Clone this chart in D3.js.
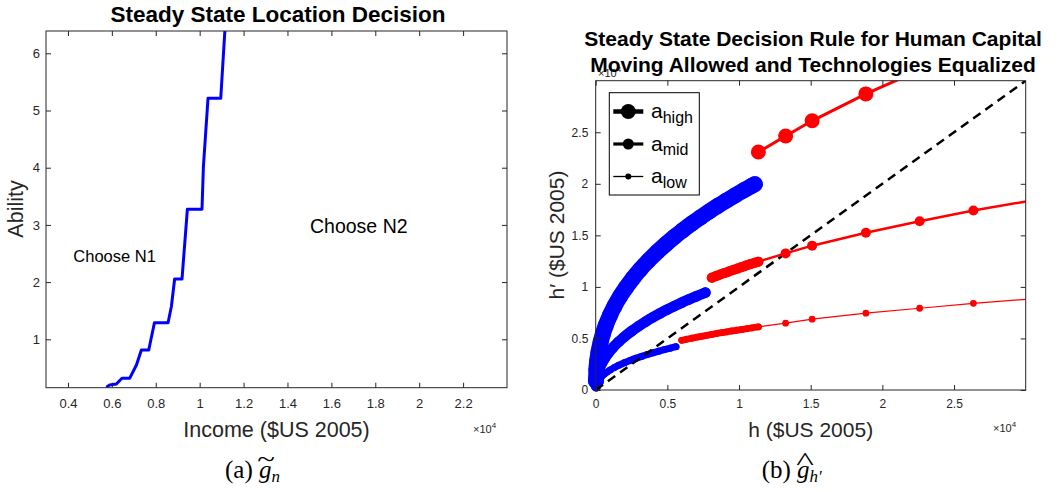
<!DOCTYPE html>
<html><head><meta charset="utf-8">
<script src="https://cdn.jsdelivr.net/npm/d3@7"></script>
<style>
body{margin:0;background:#fff}
svg{display:block}
text{font-family:"Liberation Sans",Arial,Helvetica,sans-serif}
</style>
</head><body>
<svg id="c" width="1059" height="492"></svg>
<script>
// ---------- Panel (a): location decision boundary ----------
const incomeCut = [5750, 5900, 6206, 6460, 6810, 7120, 7345, 7680, 7940, 8560, 8710, 8860, 9195, 9440, 10106, 10170, 10380, 10960, 11150, 11210];
const abilityCut = [0.161, 0.201, 0.219, 0.318, 0.318, 0.551, 0.813, 0.813, 1.290, 1.290, 1.570, 2.054, 2.054, 3.273, 3.273, 4.02, 5.213, 5.213, 6.407, 6.93];
const incomeTicks = [4000, 6000, 8000, 10000, 12000, 14000, 16000, 18000, 20000, 22000];
const abilityTicks = [1, 2, 3, 4, 5, 6];

// ---------- Panel (b): decision rule h' (h) ----------
// blue: N1 choices (dense grid)
const blueHighH  = [20, 50, 100, 200, 350, 500, 700, 1000, 1300, 1700, 2100, 2600, 3100, 3700, 4300, 4900, 5500, 6100, 6700, 7300, 7900, 8500, 9100, 9700, 10300, 10900, 11100];
const blueHighHp = [900, 2000, 2760, 3690, 4670, 5430, 6250, 7260, 8110, 9080, 9910, 10840, 11680, 12580, 13400, 14150, 14860, 15520, 16140, 16730, 17300, 17840, 18360, 18860, 19340, 19810, 19960];
const blueMidH   = [20, 100, 200, 400, 600, 900, 1200, 1600, 2000, 2500, 3000, 3500, 4000, 4500, 5000, 5500, 6000, 6500, 7000, 7650];
const blueMidHp  = [400, 1340, 1830, 2500, 3000, 3610, 4110, 4670, 5170, 5710, 6200, 6650, 7060, 7440, 7800, 8140, 8470, 8780, 9080, 9450];
const blueLowH   = [20, 100, 200, 400, 600, 800, 1000, 1300, 1600, 2000, 2400, 2800, 3200, 3600, 4000, 4400, 4800, 5200, 5600];
const blueLowHp  = [200, 690, 940, 1280, 1540, 1750, 1930, 2180, 2390, 2640, 2870, 3070, 3260, 3440, 3610, 3770, 3920, 4060, 4200];
// red: N2 choices
const redHighH   = [11350, 13250, 15100, 18850, 22600];
const redHighHp  = [23080, 24630, 26110, 28720, 31030];
const redMidH    = [8100, 8400, 8700, 9000, 9300, 9600, 9900, 10200, 10500, 10800, 11100, 11350, 13250, 15100, 18850, 22600, 26350, 30100];
const redMidHp   = [10890, 11050, 11210, 11360, 11500, 11650, 11790, 11930, 12070, 12210, 12340, 12450, 13250, 14000, 15250, 16370, 17410, 18310];
const redLowH    = [6000, 6350, 6700, 7050, 7400, 7750, 8100, 8450, 8800, 9150, 9500, 9850, 10200, 10550, 10900, 11350, 13250, 15100, 18850, 22600, 26350, 30100];
const redLowHp   = [4820, 4920, 5020, 5120, 5210, 5300, 5390, 5480, 5560, 5640, 5725, 5800, 5880, 5950, 6030, 6120, 6480, 6870, 7450, 7930, 8410, 8800];
const hTicks  = [0, 5000, 10000, 15000, 20000, 25000];
const hpTicks = [0, 5000, 10000, 15000, 20000, 25000];
const legendLabels = ["high", "mid", "low"];

const svg = d3.select("#c");
const AX = "#262626";
const fmt4 = d => String(+(d / 1e4).toFixed(2));

function zip(a, b) { return a.map((v, i) => [v, b[i]]); }

function axesFrame(x, y, xt, yt, xFmt, yFmt, fs, padX, padY) {
  const [x0, x1] = x.range(), [y1, y0] = y.range();
  const g = svg.append("g");
  const style = sel => {
    sel.select(".domain").remove();
    sel.selectAll("line").attr("stroke", AX);
    sel.selectAll("text").attr("fill", AX).style("font-size", fs + "px").attr("font-family", null);
  };
  g.append("g").attr("transform", `translate(0,${y1})`)
    .call(d3.axisBottom(x).tickValues(xt).tickFormat(xFmt).tickSizeInner(-5).tickSizeOuter(0).tickPadding(padX)).call(style);
  g.append("g").attr("transform", `translate(0,${y0})`)
    .call(d3.axisTop(x).tickValues(xt).tickFormat("").tickSizeInner(-5).tickSizeOuter(0)).call(style);
  g.append("g").attr("transform", `translate(${x0},0)`)
    .call(d3.axisLeft(y).tickValues(yt).tickFormat(yFmt).tickSizeInner(-5).tickSizeOuter(0).tickPadding(padY)).call(style);
  g.append("g").attr("transform", `translate(${x1},0)`)
    .call(d3.axisRight(y).tickValues(yt).tickFormat("").tickSizeInner(-5).tickSizeOuter(0)).call(style);
  g.append("rect").attr("x", x0).attr("y", y0).attr("width", x1 - x0).attr("height", y1 - y0)
    .attr("fill", "none").attr("stroke", AX).attr("stroke-width", 1);
}

function clip(id, x, y) {
  const [x0, x1] = x.range(), [y1, y0] = y.range();
  svg.append("clipPath").attr("id", id).append("rect")
    .attr("x", x0).attr("y", y0).attr("width", x1 - x0).attr("height", y1 - y0);
}

function expLabel(xp, yp) {
  const t = svg.append("text").attr("x", xp).attr("y", yp).attr("fill", AX).style("font-size", "11px");
  t.append("tspan").text("\u00d710");
  t.append("tspan").attr("dy", -5).style("font-size", "8px").text("4");
}

// ===== Panel (a) =====
const xL = d3.scaleLinear().domain([3000, 24000]).range([46, 507]);
const yL = d3.scaleLinear().domain([0.154, 6.39]).range([387.7, 31]);
clip("clipL", xL, yL);
svg.append("path").datum(zip(incomeCut, abilityCut))
  .attr("clip-path", "url(#clipL)")
  .attr("d", d3.line().x(d => xL(d[0])).y(d => yL(d[1])))
  .attr("fill", "none").attr("stroke", "#0000ff").attr("stroke-width", 3).attr("stroke-linejoin", "round");
axesFrame(xL, yL, incomeTicks, abilityTicks, fmt4, d => String(d), 13, 11, 6);
expLabel(473, 433);
svg.append("text").attr("x", 278).attr("y", 22).attr("text-anchor", "middle")
  .style("font-size", "22.5px").style("font-weight", "bold").text("Steady State Location Decision");
svg.append("text").attr("x", 276.5).attr("y", 436.7).attr("text-anchor", "middle")
  .style("font-size", "21.5px").attr("fill", AX).text("Income ($US 2005)");
svg.append("text").attr("transform", "translate(23,209) rotate(-90)").attr("text-anchor", "middle")
  .style("font-size", "21.5px").attr("fill", AX).text("Ability");
svg.append("text").attr("x", 73.3).attr("y", 261.7).style("font-size", "16.5px").text("Choose N1");
svg.append("text").attr("x", 310).attr("y", 233.3).style("font-size", "19.5px").text("Choose N2");

// ===== Panel (b) =====
const xR = d3.scaleLinear().domain([0, 30000]).range([595.7, 1025.7]);
const yR = d3.scaleLinear().domain([0, 30000]).range([390, 80.7]);
clip("clipR", xR, yR);
expLabel(598, 77);

const sizes = { high: { r: 7.5, w: 3 }, mid: { r: 5, w: 2.5 }, low: { r: 3.4, w: 1.2 } };
const blueR = { high: 8, mid: 5.3, low: 3.5 };
const inDom = d => d[0] >= 0 && d[0] <= 30000 && d[1] >= 0 && d[1] <= 30000;
const px = d => [xR(d[0]), yR(d[1])];

// markers: where neighbouring markers overlap, the overlapping run reads as a solid band
function markers(data, color, r) {
  const pts = data.filter(inDom).map(px);
  const runs = [];
  let cur = [pts[0]];
  for (let i = 1; i < pts.length; i++) {
    const dist = Math.hypot(pts[i][0] - pts[i - 1][0], pts[i][1] - pts[i - 1][1]);
    if (dist < 3 * r) cur.push(pts[i]); else { runs.push(cur); cur = [pts[i]]; }
  }
  runs.push(cur);
  const g = svg.append("g");
  g.selectAll("path").data(runs.filter(r0 => r0.length > 1)).join("path")
    .attr("d", d3.line().curve(d3.curveMonotoneX))
    .attr("fill", "none").attr("stroke", color).attr("stroke-width", 2 * r)
    .attr("stroke-linecap", "round").attr("stroke-linejoin", "round");
  g.selectAll("circle").data(pts).join("circle")
    .attr("cx", d => d[0]).attr("cy", d => d[1]).attr("r", r).attr("fill", color);
}
function redSeries(h, hp, s) {
  const data = zip(h, hp);
  svg.append("path").datum(data).attr("clip-path", "url(#clipR)")
    .attr("d", d3.line().x(d => xR(d[0])).y(d => yR(d[1])))
    .attr("fill", "none").attr("stroke", "#ff0000").attr("stroke-width", s.w);
  markers(data, "#ff0000", s.r);
}

markers(zip(blueHighH, blueHighHp), "#0000ff", blueR.high);
markers(zip(blueMidH, blueMidHp), "#0000ff", blueR.mid);
markers(zip(blueLowH, blueLowHp), "#0000ff", blueR.low);

svg.append("path").datum([[0, 0], [30000, 30000]]).attr("clip-path", "url(#clipR)")
  .attr("d", d3.line().x(d => xR(d[0])).y(d => yR(d[1])))
  .attr("stroke", "#000").attr("stroke-width", 2.5).attr("stroke-dasharray", "9,6").attr("fill", "none");

redSeries(redHighH, redHighHp, sizes.high);
redSeries(redMidH, redMidHp, sizes.mid);
redSeries(redLowH, redLowHp, sizes.low);

axesFrame(xR, yR, hTicks, hpTicks, fmt4, fmt4, 12, 9, 7.4);
expLabel(993, 432);

svg.append("text").attr("x", 813).attr("y", 45.5).attr("text-anchor", "middle")
  .style("font-size", "21px").style("font-weight", "bold").text("Steady State Decision Rule for Human Capital");
svg.append("text").attr("x", 813).attr("y", 71.5).attr("text-anchor", "middle")
  .style("font-size", "21px").style("font-weight", "bold").text("Moving Allowed and Technologies Equalized");
svg.append("text").attr("x", 810.7).attr("y", 436.7).attr("text-anchor", "middle")
  .style("font-size", "21px").attr("fill", AX).text("h ($US 2005)");
svg.append("text").attr("transform", "translate(564,235) rotate(-90)").attr("text-anchor", "middle")
  .style("font-size", "21px").attr("fill", AX).text("h\u2032 ($US 2005)");

// legend
const lg = svg.append("g");
lg.append("rect").attr("x", 609.3).attr("y", 92.7).attr("width", 90).attr("height", 102.3)
  .attr("fill", "#fff").attr("stroke", "#000").attr("stroke-width", 1);
const legW = { high: 4.5, mid: 3.2, low: 1.3 };
const legR = { high: 7.5, mid: 5.5, low: 3 };
const legY = d3.scalePoint().domain(legendLabels).range([111.5, 176.5]);
legendLabels.forEach(k => {
  const yy = legY(k);
  lg.append("line").attr("x1", 613.3).attr("x2", 643.3).attr("y1", yy).attr("y2", yy)
    .attr("stroke", "#000").attr("stroke-width", legW[k]);
  lg.append("circle").attr("cx", 628.3).attr("cy", yy).attr("r", legR[k]).attr("fill", "#000");
  const t = lg.append("text").attr("x", 651).attr("y", yy + 6.8).style("font-size", "21px");
  t.append("tspan").text("a");
  t.append("tspan").attr("dy", 4.4).style("font-size", "16px").text(k);
});

// ===== captions =====
function caption(x, label, sub, accent, accentX, accentY, sx) {
  const t = svg.append("text").attr("x", x).attr("y", 478.3)
    .style("font-family", "'Liberation Serif','Times New Roman',serif").style("font-size", "25px");
  t.append("tspan").text(label + " ");
  t.append("tspan").style("font-style", "italic").text("g");
  t.append("tspan").style("font-style", "italic").style("font-size", "17px").attr("dy", 3.4).text(sub);
  svg.append("text").attr("transform", `translate(${accentX},${accentY}) scale(${sx},1)`)
    .attr("text-anchor", "middle")
    .style("font-family", "'Liberation Serif','Times New Roman',serif").style("font-size", "25px").text(accent);
}
caption(225, "(a)", "n", "~", 266, 467, 1.3);
caption(761.7, "(b)", "h\u2032", "^", 805, 470, 1.5);
</script>
</body></html>
